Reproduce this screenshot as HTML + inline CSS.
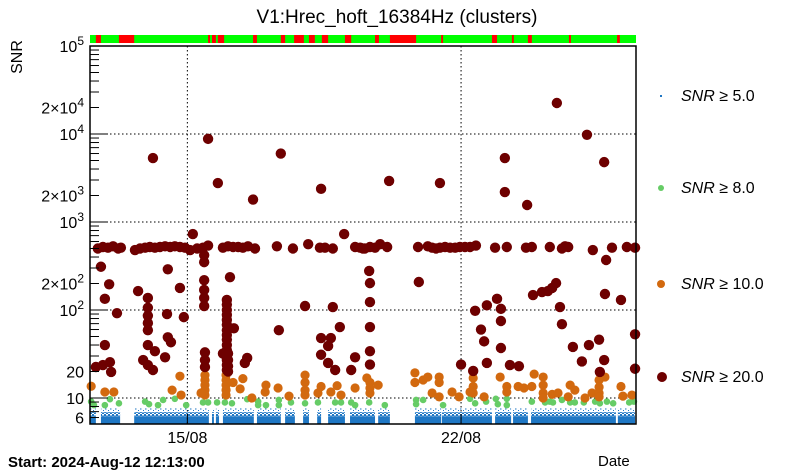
<!DOCTYPE html>
<html><head><meta charset="utf-8"><style>
body{margin:0;background:#fff;}
svg{display:block;font-family:"Liberation Sans",sans-serif;}
</style></head><body>
<svg id="chart" width="805" height="472" xmlns="http://www.w3.org/2000/svg">
<defs>
<pattern id="bluedots" width="4" height="3" patternUnits="userSpaceOnUse"><rect x="0" y="0" width="2" height="2" fill="#1f77c4"/><rect x="2" y="1.5" width="2" height="1.5" fill="#1f77c4"/></pattern>
<pattern id="bluesparse" width="5" height="4" patternUnits="userSpaceOnUse"><rect x="0" y="0" width="1.5" height="1.5" fill="#1f77c4"/><rect x="3" y="2" width="1" height="1" fill="#1f77c4"/></pattern>
</defs>
<rect x="0" y="0" width="805" height="472" fill="#fff"/>
<text x="397" y="23" font-size="19" text-anchor="middle">V1:Hrec_hoft_16384Hz (clusters)</text>
<text transform="translate(22,57) rotate(-90)" font-size="16" text-anchor="middle">SNR</text>
<g id="segbar"></g>
<g id="blue"></g>
<g id="grid"></g>
<g id="green"></g>
<g id="orange"></g>
<g id="dark"></g>
<g id="axes"></g>
<text x="8" y="467" font-size="15" font-weight="bold">Start: 2024-Aug-12 12:13:00</text>
<text x="598" y="466" font-size="15">Date</text>
<g>
<g><rect x="660" y="95" width="2" height="2" fill="#1f77c4"/><text x="681" y="101" font-size="16"><tspan font-style="italic">SNR</tspan> ≥ 5.0</text></g>
<g><circle cx="661" cy="188" r="3" fill="#66cc66"/><text x="681" y="193" font-size="16"><tspan font-style="italic">SNR</tspan> ≥ 8.0</text></g>
<g><circle cx="661" cy="284" r="4" fill="#d2690f"/><text x="681" y="289" font-size="16"><tspan font-style="italic">SNR</tspan> ≥ 10.0</text></g>
<g><circle cx="662" cy="377" r="5" fill="#6e0000"/><text x="681" y="382" font-size="16"><tspan font-style="italic">SNR</tspan> ≥ 20.0</text></g>
</g>
</svg>
<script>
const xTickDays=[2.49,9.49];
const xTickLabels=["15/08","22/08"];
const yTickValues=[100000,20000,10000,2000,1000,200,100,20,10,6];
const yTickLabels=["10^5","2×10^4","10^4","2×10^3","10^3","2×10^2","10^2","20","10","6"];
const badSegments=[[0.15,0.28],[0.74,1.13],[3.02,3.07],[3.12,3.22],[3.27,3.43],[4.17,4.27],[4.88,4.99],[5.22,5.47],[5.60,5.75],[5.93,6.09],[6.52,6.68],[7.29,7.39],[7.67,8.34],[8.98,9.03],[10.28,10.41],[10.79,10.84],[11.20,11.30],[12.25,12.30],[13.48,13.55]];
const blueSegments=[[0,0.15],[0.28,0.77],[1.13,3.04],[3.12,3.17],[3.22,3.30],[3.40,4.19],[4.27,4.88],[4.99,5.24],[5.45,5.60],[5.81,5.91],[6.09,6.52],[6.65,7.29],[7.37,7.67],[8.31,8.98],[9.00,10.28],[10.36,10.77],[10.82,11.20],[11.28,13.45],[13.50,13.94]];
const blueMax=[6.2,6.9,7.6];
const greenPts=[[0.03,9.1],[0.10,8.3],[0.38,8.3],[0.51,9.7],[0.74,8.7],[1.41,9.1],[1.51,8.5],[1.74,8.3],[1.87,9.5],[2.17,9.8],[2.46,8.3],[2.89,8.9],[3.02,8.9],[3.25,8.9],[3.45,8.9],[3.63,8.7],[4.02,9.7],[4.30,9.1],[4.30,8.3],[4.50,8.3],[4.83,9.5],[4.83,8.3],[5.14,8.9],[5.50,8.7],[5.83,8.9],[6.27,8.9],[6.42,8.9],[6.68,8.9],[6.78,8.3],[7.14,8.9],[7.54,8.3],[8.34,9.5],[8.34,8.5],[8.52,9.5],[9.03,8.3],[9.72,9.8],[9.85,8.7],[10.13,9.1],[10.38,9.8],[10.43,8.5],[10.66,9.8],[10.66,8.3],[11.30,9.1],[11.64,8.9],[11.76,9.1],[11.84,8.9],[12.07,9.5],[12.28,8.9],[12.40,8.9],[12.63,8.9],[12.92,9.1],[13.04,8.7],[13.22,9.1],[13.38,8.7],[13.79,8.9],[13.91,9.1]];
const orangePts=[[0.03,13.6],[0.38,11.7],[0.61,11.7],[2.30,17.7],[2.10,12.3],[2.33,10.8],[2.94,18.2],[2.94,16],[2.94,14],[2.94,12.3],[2.94,10.8],[2.84,11.4],[3.48,18.2],[3.48,16],[3.48,14],[3.48,12.3],[3.48,10.8],[3.66,15],[3.84,12.7],[3.91,16.6],[4.14,10],[4.50,14],[4.48,11.7],[4.81,13],[5.09,10.5],[5.50,18.2],[5.50,15],[5.50,12.3],[5.50,10.8],[5.83,11.4],[5.91,13.5],[6.32,13.8],[6.16,11.7],[6.42,10.8],[6.78,13],[7.08,16.9],[7.16,15],[7.16,13],[7.16,11.4],[7.37,14],[8.31,19.3],[8.31,15],[8.52,16],[8.64,17.3],[8.93,17.3],[8.93,15],[8.75,11.4],[8.93,10.3],[9.26,11.7],[9.44,10.3],[9.80,16.9],[9.80,13.5],[9.80,11.4],[9.72,11.7],[10.08,10.3],[10.49,17.3],[10.66,13.5],[10.66,11.7],[10.95,13.5],[11.10,13],[11.30,13.5],[11.36,18.7],[11.59,17.3],[11.59,14],[11.59,11.4],[11.59,10],[11.82,11],[11.97,11.4],[12.28,14],[12.23,10.3],[12.40,12.3],[12.66,10],[12.84,11.4],[13.02,16],[13.02,13.3],[13.02,11.4],[13.02,10.3],[13.17,17.3],[13.58,13.5],[13.63,10.5],[13.86,10.8]];
const darkPts=[[1.61,5330],[3.02,8800],[3.27,2770],[4.17,1800],[4.88,6000],[5.91,2380],[7.65,2930],[8.95,2770],[10.61,5330],[10.61,2190],[11.18,1560],[11.94,22500],[12.71,9800],[13.15,4790],
[0.20,500],[0.33,520],[0.46,510],[0.59,530],[0.72,500],[0.79,510],[1.15,480],[1.28,500],[1.41,510],[1.53,520],[1.66,510],[1.79,520],[1.92,530],[2.05,520],[2.17,530],[2.30,520],[2.43,510],[2.56,480],[2.74,500],[2.89,510],[3.02,540],[3.40,510],[3.53,530],[3.66,520],[3.79,520],[3.91,510],[4.04,530],[4.22,500],[4.78,530],[5.19,500],[5.58,560],[5.88,510],[6.01,510],[6.21,500],[6.78,520],[6.91,510],[6.98,500],[7.03,500],[7.16,520],[7.29,510],[7.42,560],[7.60,520],[8.39,520],[8.64,530],[8.75,510],[8.85,500],[8.95,510],[9.08,520],[9.21,510],[9.34,510],[9.46,520],[9.59,520],[9.72,520],[9.87,540],[10.36,510],[10.66,520],[11.15,510],[11.30,520],[11.76,520],[12.07,500],[12.15,530],[12.23,520],[12.86,480],[13.35,510],[13.73,520],[13.94,510],
[2.63,730],[6.50,730],[0.28,310],[0.49,196],[0.38,134],[0.69,92],[1.23,164],[1.48,137],[1.48,106],[1.48,86],[1.48,71],[1.48,59],[1.99,290],[2.30,178],[1.97,90],[2.40,83],[2.92,420],[2.92,350],[2.92,218],[2.92,169],[2.92,137],[2.92,111],[3.58,236],
[3.50,130],[3.50,115],[3.50,100],[3.50,88],[3.50,77],[3.50,68],[3.50,59],[3.50,52],[3.50,46],[3.50,40],[3.50,35],[3.50,31],[3.50,27],[3.50,23.7],[3.50,20.8],
[3.68,62],[4.83,59],[5.50,111],[6.21,108],[6.39,64],[5.91,48],[6.16,48],[6.09,39],[5.91,31],[6.09,25],[6.27,20.8],[6.78,29],[6.68,20.8],[0.38,40],[0.33,23.7],[0.51,25.5],[0.54,19.8],[0.15,22.5],[1.36,27],[1.48,40],[1.66,34],[1.61,20.8],[1.48,23.7],[1.92,29],[1.99,49],[2.07,43],[2.94,33],[2.94,27],[2.94,22.5],[3.40,32],[3.53,32],[3.53,27],[3.53,23],[3.53,20],[4.02,28.5],[3.96,25],
[7.14,278],[7.16,202],[7.16,123],[7.16,64],[7.16,34],[7.16,24],[8.41,208],[9.85,98],[10.15,113],[10.41,134],[10.51,103],[10.51,75],[10.00,60],[10.08,44],[10.51,37],[9.49,24],[9.80,20.3],[10.15,25],[10.74,23.7],[10.97,23],[11.33,148],[11.56,160],[11.71,164],[11.82,178],[11.92,202],[12.02,108],[12.07,69],[12.35,38],[12.58,26],[12.76,40],[13.02,46],[13.15,27],[13.04,19.8],[13.17,152],[13.58,130],[13.94,53],[13.94,21.5],[13.20,370]];

const NS='http://www.w3.org/2000/svg';
const X0=90,X1=636,Y0=46,Y1=424;
function xs(d){return X0+d*39.1;}
function ys(v){return 486-88*Math.log10(v);}
function mk(tag,attrs,parent){const e=document.createElementNS(NS,tag);for(const k in attrs)e.setAttribute(k,attrs[k]);parent.appendChild(e);return e;}

const seg=document.getElementById('segbar');
const sb=mk('rect',{x:X0,y:35,width:X1-X0,height:8,fill:'#00ff00'},seg);


badSegments.forEach(s=>{const r=mk('rect',{x:xs(s[0]),y:35,width:Math.max(1.5,xs(s[1])-xs(s[0])),height:8,fill:'#ff0000'},seg);

});

const blue=document.getElementById('blue');
blueSegments.forEach(s=>{const w=xs(s[1])-xs(s[0]);
const a=mk('rect',{x:xs(s[0]),y:ys(blueMax[0]),width:w,height:Y1-ys(blueMax[0]),fill:'#1f77c4'},blue);


const b=mk('rect',{x:xs(s[0]),y:ys(blueMax[1]),width:w,height:ys(blueMax[0])-ys(blueMax[1]),fill:'url(#bluedots)'},blue);


const c=mk('rect',{x:xs(s[0]),y:ys(blueMax[2]),width:w,height:ys(blueMax[1])-ys(blueMax[2]),fill:'url(#bluesparse)'},blue);

});

const grid=document.getElementById('grid');
[10,100,1000,10000].forEach(v=>{const l=mk('line',{x1:X0,x2:X1,y1:ys(v),y2:ys(v),stroke:'#000','stroke-width':1,'stroke-dasharray':'1.5,2.5'},grid);

});
xTickDays.forEach(d=>{const l=mk('line',{x1:xs(d),x2:xs(d),y1:Y0,y2:Y1,stroke:'#000','stroke-width':1,'stroke-dasharray':'1.5,2.5'},grid);

});

function dots(id,pts,r,col,name){const g=document.getElementById(id);pts.forEach(p=>{const c=mk('circle',{cx:xs(p[0]),cy:ys(p[1]),r:r,fill:col},g);

});}
dots('green',greenPts,3.3,'#66cc66','green-point');
dots('orange',orangePts,4.6,'#d2690f','orange-point');
dots('dark',darkPts,5.2,'#6e0000','dark-red-point');

const ax=document.getElementById('axes');
const fr=mk('rect',{x:X0,y:Y0,width:X1-X0,height:Y1-Y0,fill:'none',stroke:'#000','stroke-width':1.5},ax);


for(let e=0;e<5;e++){for(let m=1;m<10;m++){const v=m*Math.pow(10,e);if(v<5.1||v>100000)continue;const len=m===1?18:9;
const t=mk('line',{x1:X0,x2:X0+len,y1:ys(v),y2:ys(v),stroke:'#000','stroke-width':1},ax);

}}
yTickValues.forEach((v,i)=>{const lab=yTickLabels[i];const t=mk('text',{x:X0-6,y:ys(v)+6,'font-size':16,'text-anchor':'end'},ax);


const parts=lab.split('^');t.appendChild(document.createTextNode(parts[0]));
if(parts[1]){const s=document.createElementNS(NS,'tspan');s.setAttribute('dy','-7');s.setAttribute('font-size','12');s.textContent=parts[1];t.appendChild(s);}});
xTickDays.forEach((d,i)=>{const tk=mk('line',{x1:xs(d),x2:xs(d),y1:Y1,y2:Y1-10,stroke:'#000','stroke-width':1},ax);


const t=mk('text',{x:xs(d),y:443,'font-size':16,'text-anchor':'middle'},ax);


t.textContent=xTickLabels[i];});
</script>
</body></html>
